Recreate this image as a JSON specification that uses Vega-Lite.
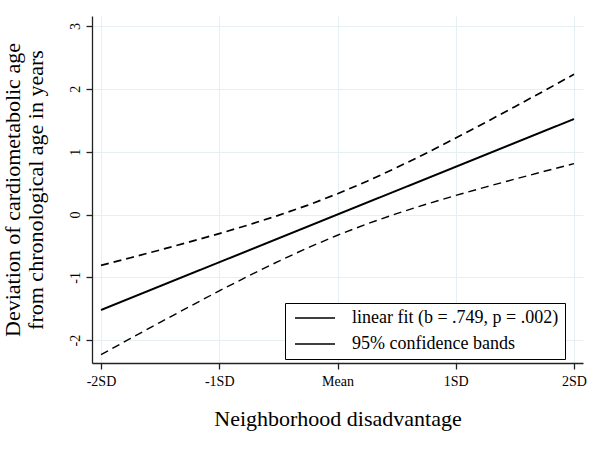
{
  "$schema": "https://vega.github.io/schema/vega-lite/v6.json",
  "width": 491,
  "height": 347,
  "autosize": {"type": "none"},
  "padding": {"left": 92, "top": 16, "right": 17, "bottom": 88},
  "background": "white",
  "config": {
    "view": {"stroke": null},
    "font": "Liberation Serif",
    "axis": {
      "domainColor": "#222222",
      "domainWidth": 1.3,
      "tickColor": "#222222",
      "tickWidth": 1.3,
      "tickSize": 6,
      "labelFont": "Liberation Serif",
      "labelFontSize": 14,
      "labelColor": "black",
      "titleFont": "Liberation Serif",
      "titleFontSize": 22,
      "titleFontWeight": "normal",
      "titleColor": "black",
      "gridColor": "#e6eff1",
      "gridWidth": 1
    }
  },
  "datasets": {
    "lines": [
      {"x": -2, "y": -1.52, "series": "linear fit (b = .749, p = .002)", "part": "fit"},
      {"x": -1, "y": -0.76, "series": "linear fit (b = .749, p = .002)", "part": "fit"},
      {"x": 0, "y": 0, "series": "linear fit (b = .749, p = .002)", "part": "fit"},
      {"x": 1, "y": 0.76, "series": "linear fit (b = .749, p = .002)", "part": "fit"},
      {"x": 2, "y": 1.52, "series": "linear fit (b = .749, p = .002)", "part": "fit"},
      {"x": -2, "y": -0.809, "series": "95% confidence bands", "part": "upper"},
      {"x": -1.75, "y": -0.688, "series": "95% confidence bands", "part": "upper"},
      {"x": -1.5, "y": -0.564, "series": "95% confidence bands", "part": "upper"},
      {"x": -1.25, "y": -0.436, "series": "95% confidence bands", "part": "upper"},
      {"x": -1, "y": -0.304, "series": "95% confidence bands", "part": "upper"},
      {"x": -0.75, "y": -0.164, "series": "95% confidence bands", "part": "upper"},
      {"x": -0.5, "y": -0.014, "series": "95% confidence bands", "part": "upper"},
      {"x": -0.25, "y": 0.149, "series": "95% confidence bands", "part": "upper"},
      {"x": 0, "y": 0.33, "series": "95% confidence bands", "part": "upper"},
      {"x": 0.25, "y": 0.529, "series": "95% confidence bands", "part": "upper"},
      {"x": 0.5, "y": 0.746, "series": "95% confidence bands", "part": "upper"},
      {"x": 0.75, "y": 0.976, "series": "95% confidence bands", "part": "upper"},
      {"x": 1, "y": 1.216, "series": "95% confidence bands", "part": "upper"},
      {"x": 1.25, "y": 1.464, "series": "95% confidence bands", "part": "upper"},
      {"x": 1.5, "y": 1.716, "series": "95% confidence bands", "part": "upper"},
      {"x": 1.75, "y": 1.972, "series": "95% confidence bands", "part": "upper"},
      {"x": 2, "y": 2.231, "series": "95% confidence bands", "part": "upper"},
      {"x": -2, "y": -2.231, "series": "95% confidence bands", "part": "lower"},
      {"x": -1.75, "y": -1.972, "series": "95% confidence bands", "part": "lower"},
      {"x": -1.5, "y": -1.716, "series": "95% confidence bands", "part": "lower"},
      {"x": -1.25, "y": -1.464, "series": "95% confidence bands", "part": "lower"},
      {"x": -1, "y": -1.216, "series": "95% confidence bands", "part": "lower"},
      {"x": -0.75, "y": -0.976, "series": "95% confidence bands", "part": "lower"},
      {"x": -0.5, "y": -0.746, "series": "95% confidence bands", "part": "lower"},
      {"x": -0.25, "y": -0.529, "series": "95% confidence bands", "part": "lower"},
      {"x": 0, "y": -0.33, "series": "95% confidence bands", "part": "lower"},
      {"x": 0.25, "y": -0.149, "series": "95% confidence bands", "part": "lower"},
      {"x": 0.5, "y": 0.014, "series": "95% confidence bands", "part": "lower"},
      {"x": 0.75, "y": 0.164, "series": "95% confidence bands", "part": "lower"},
      {"x": 1, "y": 0.304, "series": "95% confidence bands", "part": "lower"},
      {"x": 1.25, "y": 0.436, "series": "95% confidence bands", "part": "lower"},
      {"x": 1.5, "y": 0.564, "series": "95% confidence bands", "part": "lower"},
      {"x": 1.75, "y": 0.688, "series": "95% confidence bands", "part": "lower"},
      {"x": 2, "y": 0.809, "series": "95% confidence bands", "part": "lower"}
    ]
  },
  "layer": [
    {
      "mark": {"type": "rule", "color": "#8a8a8a", "strokeWidth": 1.2},
      "encoding": {
        "y": {"datum": 0, "type": "quantitative"}
      }
    },
    {
      "data": {"name": "lines"},
      "mark": {"type": "line", "clip": true},
      "encoding": {
        "x": {
          "field": "x",
          "type": "quantitative",
          "scale": {"domain": [-2.076, 2.076], "nice": false, "zero": false},
          "axis": {
            "values": [-2, -1, 0, 1, 2],
            "labelExpr": "datum.value == 0 ? 'Mean' : datum.value + 'SD'",
            "title": "Neighborhood disadvantage",
            "grid": true,
            "labelPadding": 5,
            "titlePadding": 20
          }
        },
        "y": {
          "field": "y",
          "type": "quantitative",
          "scale": {"domain": [-2.364, 3.16], "nice": false, "zero": false},
          "axis": {
            "values": [-2, -1, 0, 1, 2, 3],
            "labelExpr": "'' + datum.value",
            "labelAngle": -90,
            "labelAlign": "center",
            "labelBaseline": "alphabetic",
            "labelPadding": 7,
            "title": ["Deviation of cardiometabolic age", "from chronological age in years"],
            "titleLineHeight": 23,
            "titlePadding": 21,
            "grid": true
          }
        },
        "color": {
          "field": "series",
          "type": "nominal",
          "scale": {
            "domain": ["linear fit (b = .749, p = .002)", "95% confidence bands"],
            "range": ["black", "black"]
          },
          "legend": {
            "title": null,
            "orient": "none",
            "legendX": 193,
            "legendY": 287,
            "direction": "vertical",
            "strokeColor": "black",
            "fillColor": "white",
            "padding": 6,
            "labelFont": "Liberation Serif",
            "labelFontSize": 18,
            "labelColor": "black",
            "labelLimit": 500,
            "labelOffset": 43,
            "labelExpr": "datum.label == '95% confidence bands' ? datum.label : datum.label + '\u00a0\u00a0\u00a0\u00a0'",
            "symbolType": "M-1,0H7",
            "symbolSize": 100,
            "symbolStrokeWidth": 1.5,
            "symbolStrokeColor": "black",
            "symbolDash": [1, 0],
            "rowPadding": 8
          }
        },
        "strokeDash": {
          "field": "part",
          "type": "nominal",
          "scale": {"domain": ["fit", "upper", "lower"], "range": [[1, 0], [8, 5], [8, 5]]},
          "legend": null
        },
        "strokeWidth": {
          "field": "part",
          "type": "ordinal",
          "scale": {"domain": ["fit", "upper", "lower"], "range": [2, 1.4, 1.4]},
          "legend": null
        }
      }
    }
  ]
}
